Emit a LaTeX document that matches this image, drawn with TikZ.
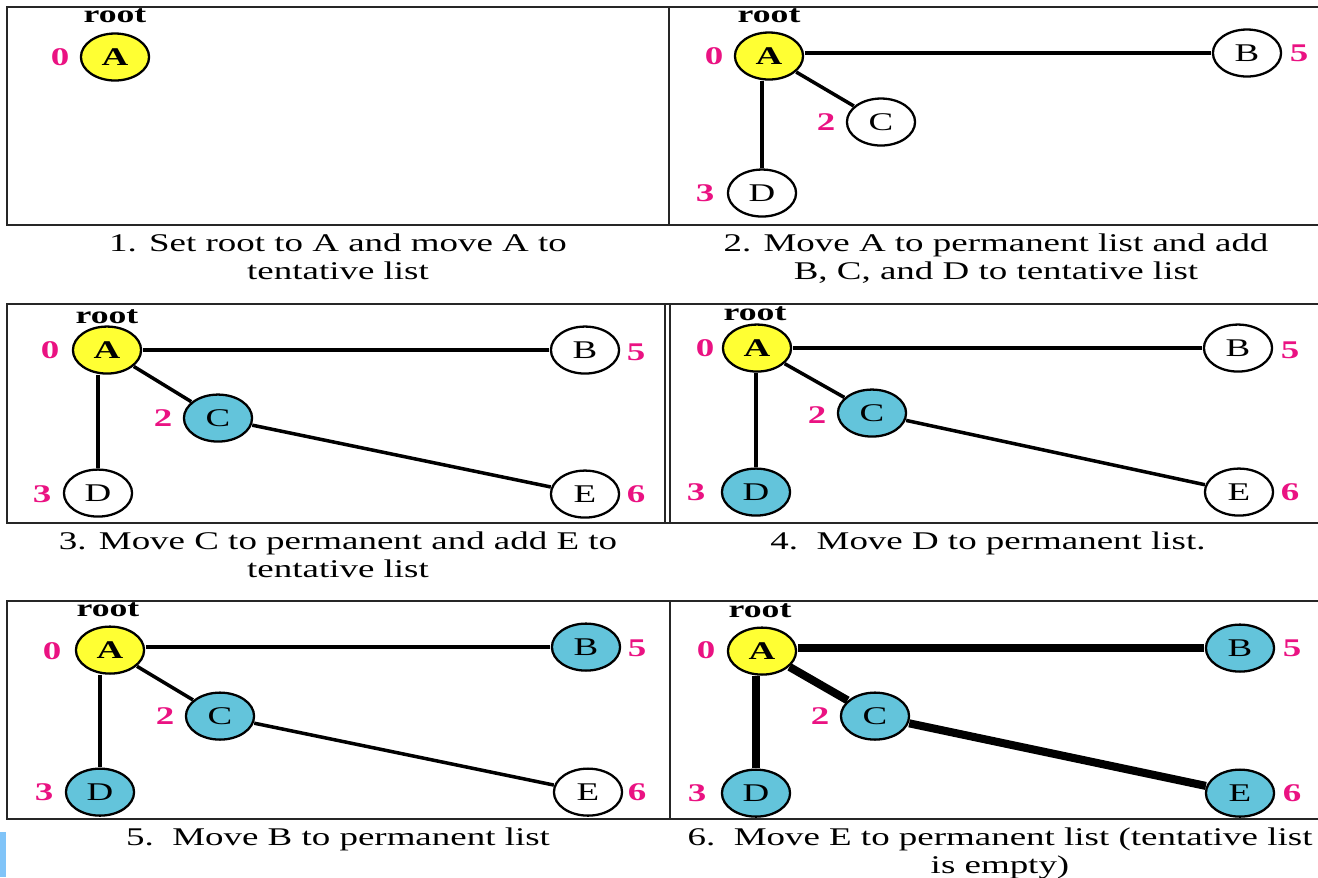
\documentclass[tikz,border=0pt]{standalone}
\usepackage{fontspec}
\setmainfont{Liberation Serif}
\usetikzlibrary{positioning}
\definecolor{rootyellow}{RGB}{255,255,51}
\definecolor{permblue}{RGB}{99,196,219}
\definecolor{distpink}{RGB}{234,18,130}
\definecolor{tabblue}{RGB}{128,196,248}

\tikzset{
  vertex/.style={draw,circle,line width=1.3pt,minimum size=0.94cm,inner sep=0pt,fill=white,font=\fontsize{14.5}{16}\selectfont},
  rootv/.style={vertex,fill=rootyellow,font=\fontsize{14.5}{16}\selectfont\bfseries},
  permv/.style={vertex,fill=permblue},
  distlabel/.style={text=distpink,font=\fontsize{14.5}{16}\selectfont\bfseries,inner sep=0pt},
  rootlabel/.style={font=\fontsize{14}{16}\selectfont\bfseries,inner sep=0pt},
  link/.style={line width=2pt},
  treelink/.style={line width=4.6pt},
  caption/.style={align=center,anchor=north,inner sep=0pt,font=\fontsize{14.5}{16}\selectfont},
  panelframe/.style={line width=1.2pt,black!85}
}

\begin{document}
\begin{tikzpicture}[x=0.013793cm,y=-0.02cm,xscale=1.45,every node/.style={transform shape}]
\useasboundingbox (0,0) rectangle (1318,877);

% frames of the three rows
\draw[panelframe] (1318,7) -- (7,7) -- (7,225) -- (1318,225);
\draw[panelframe] (669,7) -- (669,225);
\draw[panelframe] (1318,304) -- (7,304) -- (7,523) -- (1318,523);
\draw[panelframe] (665,304) -- (665,523);
\draw[panelframe] (670,304) -- (670,523);
\draw[panelframe] (1318,601) -- (7,601) -- (7,819) -- (1318,819);
\draw[panelframe] (670,601) -- (670,819);
\fill[tabblue] (0,832) rectangle (6,877);

% step 1
\begin{scope}[shift={(115,57)},name prefix=s1-]
  \node[rootv] (A) at (0,0) {A};
  \node[rootlabel] (root) at (0,-41) {root};
  \node[distlabel] (dA) at (-55,0) {0};
\end{scope}

% step 2
\begin{scope}[shift={(769,56)},name prefix=s2-]
  \node[rootv] (A) at (0,0) {A};
  \node[vertex] (B) at (478,-3) {B};
  \node[vertex] (C) at (112,66) {C};
  \node[vertex] (D) at (-7,137) {D};
  \node[rootlabel] (root) at (0,-40) {root};
  \node[distlabel] (dA) at (-55,0) {0};
  \node[distlabel] (dB) at (530,-3) {5};
  \node[distlabel] (dC) at (57,66) {2};
  \node[distlabel] (dD) at (-64,137) {3};
  \draw[link] (B) -- (B -| A.east);
  \draw[link] (A) -- (C);
  \draw[link] (D.north) -- (D.north |- A.south);
\end{scope}

% step 3
\begin{scope}[shift={(107,350)},name prefix=s3-]
  \node[rootv] (A) at (0,0) {A};
  \node[vertex] (B) at (478,0) {B};
  \node[permv] (C) at (111,68) {C};
  \node[vertex] (D) at (-9,143) {D};
  \node[vertex] (E) at (478,144) {E};
  \node[rootlabel] (root) at (0,-33) {root};
  \node[distlabel] (dA) at (-57,0) {0};
  \node[distlabel] (dB) at (529,2) {5};
  \node[distlabel] (dC) at (56,68) {2};
  \node[distlabel] (dD) at (-65,144) {3};
  \node[distlabel] (dE) at (529,144) {6};
  \draw[link] (B) -- (B -| A.east);
  \draw[link] (A) -- (C);
  \draw[link] (D.north) -- (D.north |- A.south);
  \draw[link] (C) -- (E);
\end{scope}

% step 4
\begin{scope}[shift={(757,348)},name prefix=s4-]
  \node[rootv] (A) at (0,0) {A};
  \node[vertex] (B) at (481,0) {B};
  \node[permv] (C) at (115,65) {C};
  \node[permv] (D) at (-1,144) {D};
  \node[vertex] (E) at (482,144) {E};
  \node[rootlabel] (root) at (-2,-34) {root};
  \node[distlabel] (dA) at (-52,0) {0};
  \node[distlabel] (dB) at (533,2) {5};
  \node[distlabel] (dC) at (60,67) {2};
  \node[distlabel] (dD) at (-61,144) {3};
  \node[distlabel] (dE) at (533,144) {6};
  \draw[link] (B) -- (B -| A.east);
  \draw[link] (A) -- (C);
  \draw[link] (D.north) -- (D.north |- A.south);
  \draw[link] (C) -- (E);
\end{scope}

% step 5
\begin{scope}[shift={(110,650)},name prefix=s5-]
  \node[rootv] (A) at (0,0) {A};
  \node[permv] (B) at (476,-3) {B};
  \node[permv] (C) at (110,66) {C};
  \node[permv] (D) at (-10,142) {D};
  \node[vertex] (E) at (478,142) {E};
  \node[rootlabel] (root) at (-2,-40) {root};
  \node[distlabel] (dA) at (-58,1) {0};
  \node[distlabel] (dB) at (527,-2) {5};
  \node[distlabel] (dC) at (55,66) {2};
  \node[distlabel] (dD) at (-66,142) {3};
  \node[distlabel] (dE) at (527,142) {6};
  \draw[link] (B) -- (B -| A.east);
  \draw[link] (A) -- (C);
  \draw[link] (D.north) -- (D.north |- A.south);
  \draw[link] (C) -- (E);
\end{scope}

% step 6: the finished tree
\begin{scope}[shift={(762,651)},name prefix=s6-]
  \node[rootv] (A) at (0,0) {A};
  \node[permv] (B) at (478,-3) {B};
  \node[permv] (C) at (113,65) {C};
  \node[permv] (D) at (-6,142) {D};
  \node[permv] (E) at (478,142) {E};
  \node[rootlabel] (root) at (-2,-40) {root};
  \node[distlabel] (dA) at (-56,-1) {0};
  \node[distlabel] (dB) at (530,-3) {5};
  \node[distlabel] (dC) at (58,65) {2};
  \node[distlabel] (dD) at (-65,142) {3};
  \node[distlabel] (dE) at (530,142) {6};
  \draw[treelink] (B) -- (B -| A.east);
  \draw[treelink] (A) -- (C);
  \draw[treelink] (D.north) -- (D.north |- A.south);
  \draw[treelink] (C) -- (E);
\end{scope}

% captions
\node[caption] (cap1) at (338,233) {1. Set root to A and move A to\\tentative list};
\node[caption] (cap2) at (996,233) {2. Move A to permanent list and add\\B, C, and D to tentative list};
\node[caption] (cap3) at (338,531) {3. Move C to permanent and add E to\\tentative list};
\node[caption] (cap4) at (988,531) {4.\ \ Move D to permanent list.};
\node[caption] (cap5) at (338,827) {5.\ \ Move B to permanent list};
\node[caption] (cap6) at (1000,827) {6.\ \ Move E to permanent list (tentative list\\is empty)};
\end{tikzpicture}
\end{document}
